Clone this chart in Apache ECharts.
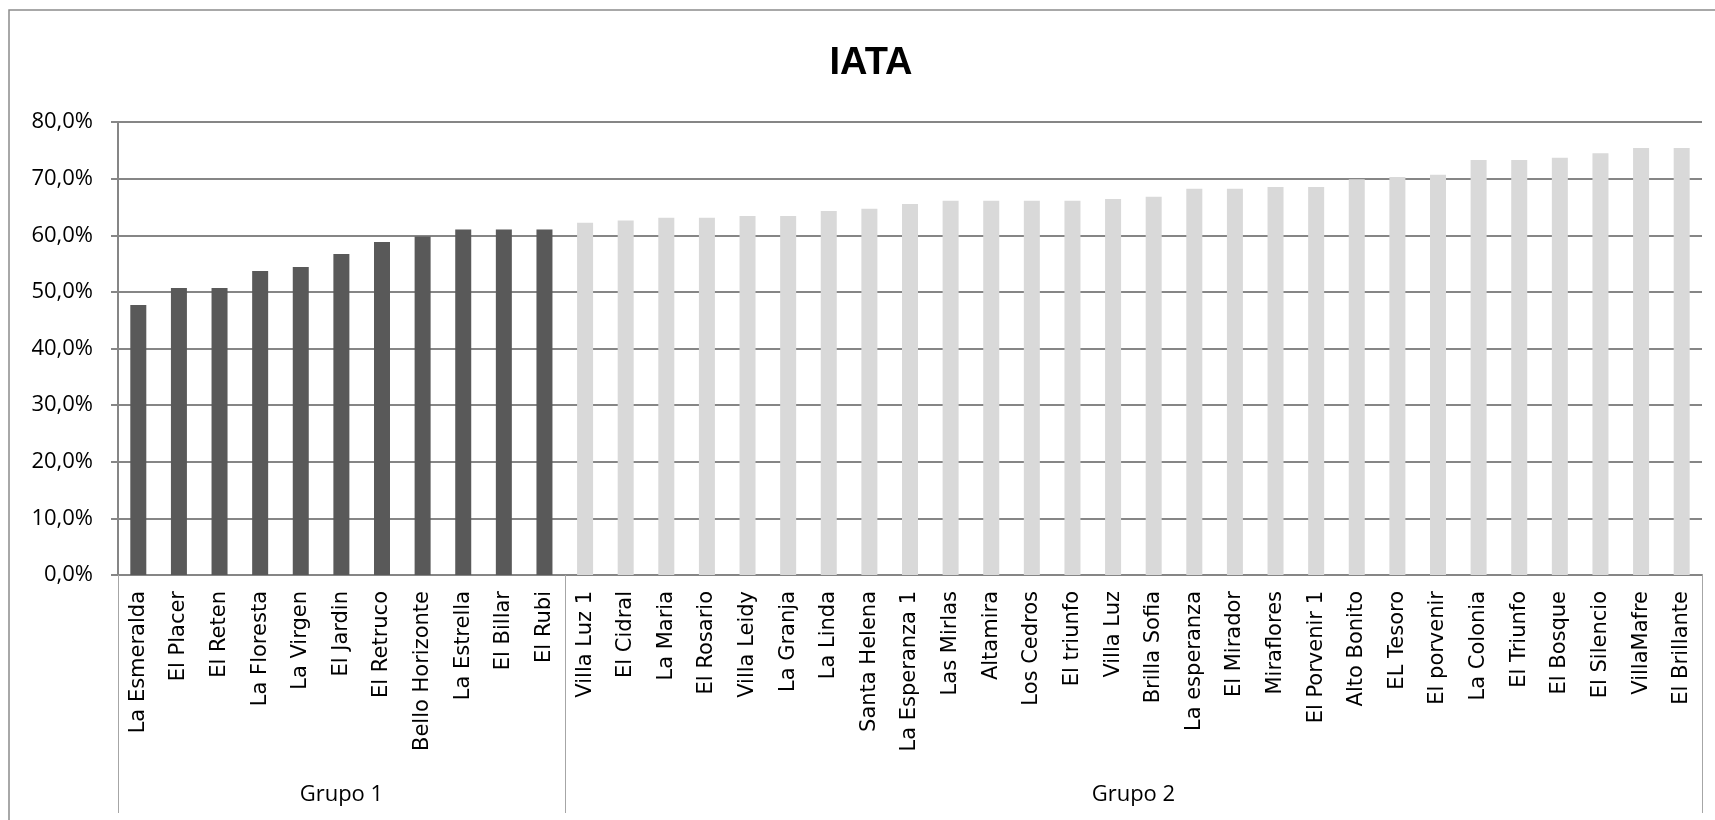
<!DOCTYPE html>
<html>
<head>
<meta charset="utf-8">
<title>IATA</title>
<script src="https://cdn.jsdelivr.net/npm/echarts@6/dist/echarts.min.js"></script>
<style>
  html, body { margin: 0; padding: 0; background: #fff; }
  #chart { width: 1715px; height: 820px; }
</style>
</head>
<body>
<div id="chart"></div>
<script>
// grupo 1 (barras oscuras)
const grupo1Names = ['La Esmeralda', 'El Placer', 'El Reten', 'La Floresta', 'La Virgen', 'El Jardin',
  'El Retruco', 'Bello Horizonte', 'La Estrella', 'El Billar', 'El Rubi'];
const grupo1Values = [47.7, 50.7, 50.7, 53.7, 54.4, 56.7, 58.8, 59.8, 61.0, 61.0, 61.0];

// grupo 2 (barras claras)
const grupo2Names = ['Villa Luz 1', 'El Cidral', 'La Maria', 'El Rosario', 'Villa Leidy', 'La Granja',
  'La Linda', 'Santa Helena', 'La Esperanza 1', 'Las Mirlas', 'Altamira', 'Los Cedros', 'El triunfo',
  'Villa Luz', 'Brilla Sofia', 'La esperanza', 'El Mirador', 'Miraflores', 'El Porvenir 1', 'Alto Bonito',
  'EL Tesoro', 'El porvenir', 'La Colonia', 'El Triunfo', 'El Bosque', 'El Silencio', 'VillaMafre',
  'El Brillante'];
const grupo2Values = [62.2, 62.6, 63.1, 63.1, 63.4, 63.4, 64.3, 64.7, 65.5, 66.1, 66.1, 66.1, 66.1,
  66.4, 66.8, 68.2, 68.2, 68.5, 68.5, 69.9, 70.3, 70.7, 73.3, 73.3, 73.7, 74.5, 75.4, 75.4];

const groupLabels = ['Grupo 1', 'Grupo 2'];
const yTicks = [0, 10, 20, 30, 40, 50, 60, 70, 80];

const categories = grupo1Names.concat(grupo2Names);
const total = categories.length;
const n1 = grupo1Names.length;

const barData = grupo1Values.map(v => ({ value: v, itemStyle: { color: '#595959' } }))
  .concat(grupo2Values.map(v => ({ value: v, itemStyle: { color: '#d9d9d9' } })));

// posiciones de los separadores y centros de cada grupo
const groupEdges = [0, n1, total];
const groupCenters = [n1 / 2, n1 + (total - n1) / 2];

const chart = echarts.init(document.getElementById('chart'));

chart.setOption({
  animation: false,
  title: {
    text: 'IATA',
    left: 866,
    top: 40,
    textAlign: 'center',
    textStyle: {
      fontFamily: 'Liberation Sans',
      fontWeight: 'bold',
      fontSize: 38,
      color: '#000'
    }
  },
  graphic: [{
    type: 'rect',
    shape: { x: 9, y: 10, width: 1800, height: 900 },
    style: { fill: 'none', stroke: '#8c8c8c', lineWidth: 1.5 },
    silent: true
  }],
  grid: {
    left: 118,
    right: 13,
    top: 122,
    bottom: 245
  },
  xAxis: [
    {
      type: 'category',
      data: categories,
      axisLine: { lineStyle: { color: '#868686', width: 2 } },
      axisTick: {
        interval: 0,
        length: 188,
        lineStyle: { color: '#a6a6a6', width: 1 }
      },
      axisLabel: {
        interval: 0,
        rotate: 90,
        margin: 16,
        fontFamily: 'DejaVu Sans',
        fontSize: 21,
        color: '#000'
      }
    },
    {
      type: 'value',
      position: 'bottom',
      min: 0,
      max: total,
      axisLine: { show: false },
      splitLine: { show: false },
      axisTick: {
        show: true,
        customValues: groupEdges,
        length: 238,
        lineStyle: { color: '#a6a6a6', width: 1 }
      },
      axisLabel: {
        customValues: groupCenters,
        margin: 209,
        fontFamily: 'Open Sans',
        fontSize: 22,
        color: '#000',
        formatter: v => groupLabels[groupCenters.indexOf(v)]
      }
    }
  ],
  yAxis: {
    type: 'value',
    min: 0,
    max: 80,
    interval: 10,
    axisLine: { show: true, lineStyle: { color: '#868686', width: 2 } },
    axisTick: { show: true, length: 7, lineStyle: { color: '#868686', width: 2 } },
    splitLine: { lineStyle: { color: '#868686', width: 2 } },
    axisLabel: {
      margin: 25,
      fontFamily: 'Open Sans',
      fontSize: 22,
      color: '#000',
      customValues: yTicks,
      formatter: v => v.toFixed(1).replace('.', ',') + '%'
    }
  },
  series: [{
    type: 'bar',
    xAxisIndex: 0,
    data: barData,
    barWidth: 16
  }]
});
</script>
</body>
</html>
